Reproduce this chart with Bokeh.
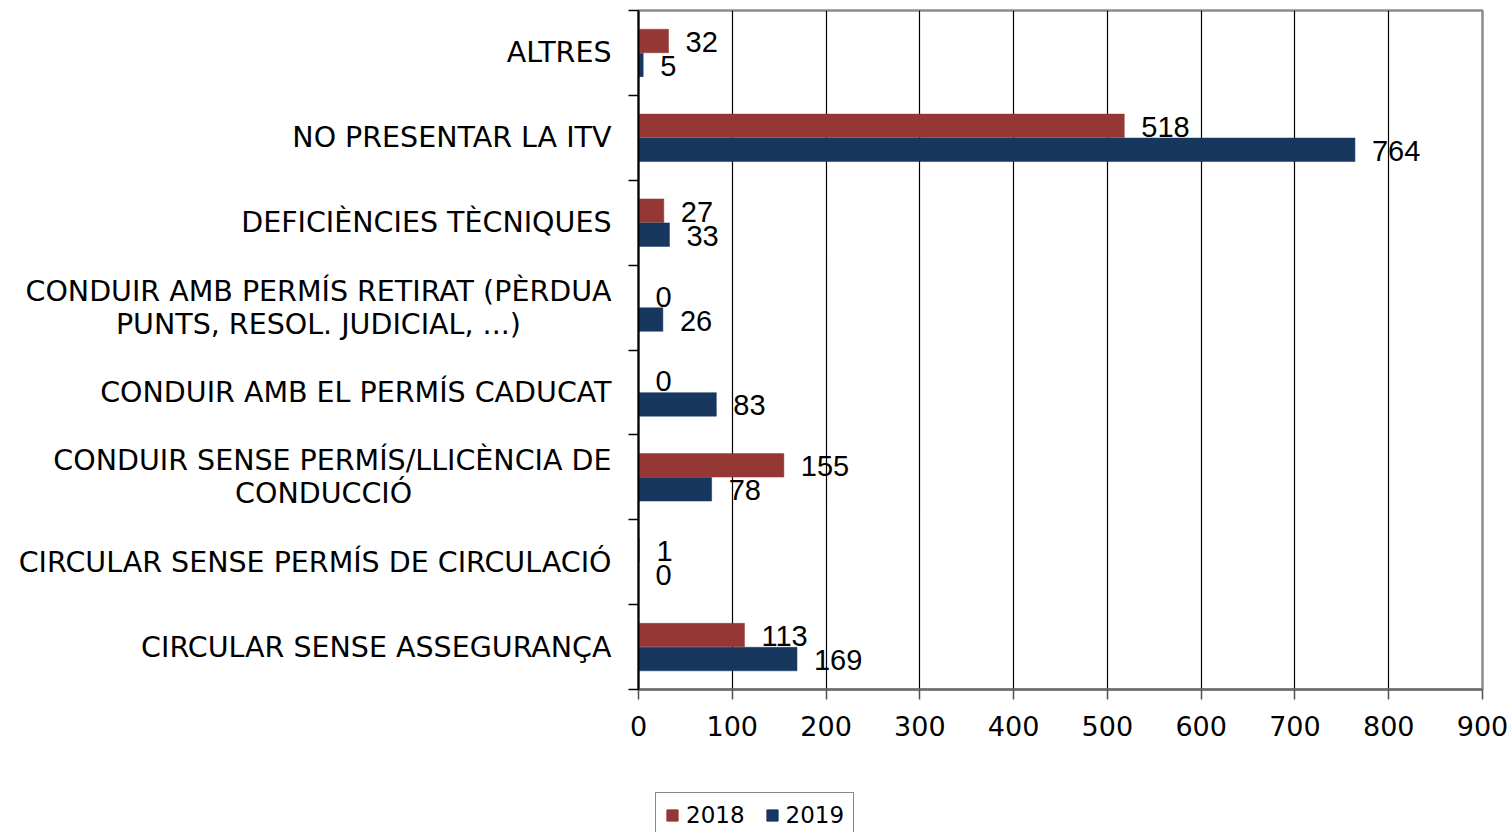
from bokeh.plotting import figure
from bokeh.layouts import column
from bokeh.models import ColumnDataSource, FixedTicker, Range1d, Legend, LegendItem
from bokeh.core.properties import value
from bokeh.embed import file_html
from bokeh.resources import INLINE

# Categories listed bottom to top
categories = [
    "CIRCULAR SENSE ASSEGURANÇA",
    "CIRCULAR SENSE PERMÍS DE CIRCULACIÓ",
    "CONDUIR SENSE PERMÍS/LLICÈNCIA DE\nCONDUCCIÓ",
    "CONDUIR AMB EL PERMÍS CADUCAT",
    "CONDUIR AMB PERMÍS RETIRAT (PÈRDUA\nPUNTS, RESOL. JUDICIAL, ...)",
    "DEFICIÈNCIES TÈCNIQUES",
    "NO PRESENTAR LA ITV",
    "ALTRES",
]
values_2018 = [113, 1, 155, 0, 0, 27, 518, 32]
values_2019 = [169, 0, 78, 83, 26, 33, 764, 5]
series_names = ["2018", "2019"]
x_ticks = [0, 100, 200, 300, 400, 500, 600, 700, 800, 900]

RED = "#953735"
BLUE = "#17375E"

# style: non-breaking-space padding that centres the second line of wrapped labels
second_line_pad = {2: 22, 4: 10}


def display_label(i, lab):
    if "\n" in lab:
        a, b = lab.split("\n")
        return a + "\n" + b + "\u00a0" * second_line_pad.get(i, 0)
    return lab


n = len(categories)
centers = [i + 0.5 for i in range(n)]
bar_h = 0.277
off = 0.141

src18 = ColumnDataSource(dict(y=[c + off for c in centers], v=values_2018,
                              t=[str(v) for v in values_2018]))
src19 = ColumnDataSource(dict(y=[c - off for c in centers], v=values_2019,
                              t=[str(v) for v in values_2019]))

MAIN_H = 785
LEG_H = 832 - MAIN_H

p = figure(width=1510, height=MAIN_H, output_backend="svg", toolbar_location=None,
           x_range=Range1d(0, 900), y_range=Range1d(0, n),
           min_border_left=638, min_border_right=28, min_border_top=10,
           min_border_bottom=MAIN_H - 689)

p.background_fill_color = "white"
p.border_fill_color = "white"
p.outline_line_color = "#8c8c8c"
p.outline_line_width = 2.5

p.hbar(y="y", right="v", left=0, height=bar_h, source=src18,
       fill_color=RED, line_color=RED, line_width=0.5)
p.hbar(y="y", right="v", left=0, height=bar_h, source=src19,
       fill_color=BLUE, line_color=BLUE, line_width=0.5)

for src in (src18, src19):
    p.text(x="v", y="y", text="t", source=src, x_offset=17, y_offset=1,
           text_baseline="middle", text_align="left",
           text_font=value("Liberation Sans"), text_font_size="29px", text_color="black")

# x axis
p.xaxis.ticker = FixedTicker(ticks=x_ticks)
p.xaxis.axis_line_color = "#707070"
p.xaxis.axis_line_width = 2.5
p.xaxis.major_tick_line_color = "#505050"
p.xaxis.major_tick_line_width = 1.5
p.xaxis.major_tick_out = 10
p.xaxis.major_tick_in = 0
p.xaxis.minor_tick_line_color = None
p.xaxis.major_label_text_font = "DejaVu Sans"
p.xaxis.major_label_text_font_size = "27px"
p.xaxis.major_label_text_color = "black"
p.xaxis.major_label_standoff = 16

# y axis: labels at centers, ticks at boundaries
p.yaxis.ticker = FixedTicker(ticks=centers, minor_ticks=list(range(n + 1)))
p.yaxis.major_label_overrides = {c: display_label(i, lab)
                                 for i, (c, lab) in enumerate(zip(centers, categories))}
p.yaxis.axis_line_color = "black"
p.yaxis.axis_line_width = 2
p.yaxis.major_tick_line_color = None
p.yaxis.major_tick_out = 0
p.yaxis.major_tick_in = 0
p.yaxis.minor_tick_line_color = "black"
p.yaxis.minor_tick_line_width = 1.5
p.yaxis.minor_tick_out = 10
p.yaxis.minor_tick_in = 0
p.yaxis.major_label_text_font = "DejaVu Sans"
p.yaxis.major_label_text_font_size = "28.5px"
p.yaxis.major_label_text_line_height = 1.0
p.yaxis.major_label_text_color = "black"
p.yaxis.major_label_standoff = 17

p.xgrid.ticker = FixedTicker(ticks=x_ticks)
p.xgrid.grid_line_color = "black"
p.xgrid.grid_line_width = 1.2
p.ygrid.grid_line_color = None

# legend strip below the chart (its frame is aligned with the chart's frame)
pl = figure(width=1510, height=LEG_H, output_backend="svg", toolbar_location=None,
            x_range=Range1d(0, 1), y_range=Range1d(0, 1),
            x_axis_location=None, y_axis_location=None,
            min_border_left=0, min_border_right=0, min_border_top=0, min_border_bottom=0)
pl.outline_line_color = None
pl.grid.grid_line_color = None
pl.background_fill_color = "white"
pl.border_fill_color = "white"
# legend-only renderers, kept outside the visible range
proxy = ColumnDataSource(dict(y=[-10], v=[-10]))
l18 = pl.hbar(y="y", right="v", left=-11, height=1, source=proxy,
              fill_color=RED, line_color=RED)
l19 = pl.hbar(y="y", right="v", left=-11, height=1, source=proxy,
              fill_color=BLUE, line_color=BLUE)

legend = Legend(items=[LegendItem(label=series_names[0], renderers=[l18]),
                       LegendItem(label=series_names[1], renderers=[l19])],
                orientation="horizontal", location=(17, -6))
legend.label_text_font = "DejaVu Sans"
legend.label_text_font_size = "23px"
legend.label_text_color = "black"
legend.glyph_width = 14
legend.glyph_height = 14
legend.label_standoff = 7
legend.spacing = 20
legend.padding = 9
legend.margin = 0
legend.border_line_color = "#111111"
legend.border_line_width = 1.5
legend.background_fill_color = "white"
legend.background_fill_alpha = 1
pl.add_layout(legend, "center")

open("out.html", "w").write(file_html(column(p, pl, spacing=0), INLINE))
